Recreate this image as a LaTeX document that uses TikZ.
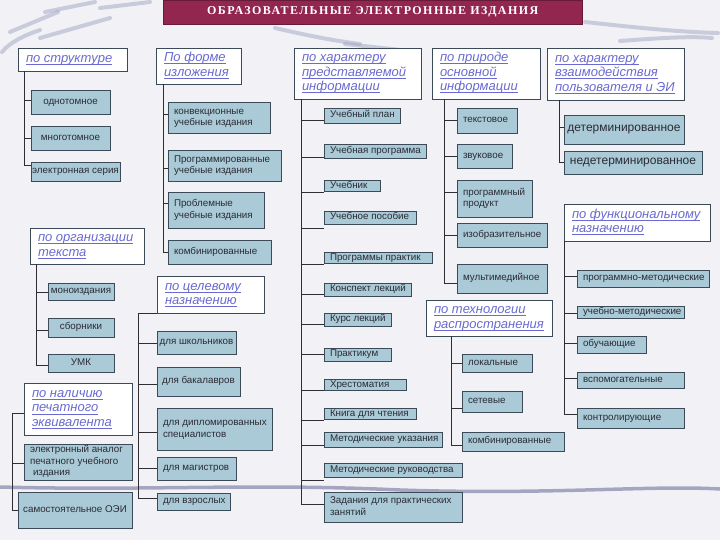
\documentclass[tikz,border=0pt]{standalone}
\usepackage{fontspec}
\setmainfont{Liberation Sans}
\newfontfamily\titlefont[LetterSpace=12]{Liberation Serif}
\definecolor{bg}{HTML}{F2F2F6}
\definecolor{boxfill}{HTML}{A9CAD6}
\definecolor{boxdraw}{HTML}{3C4A58}
\definecolor{hdtext}{HTML}{6A6AD2}
\definecolor{titlefill}{HTML}{93264F}
\definecolor{streakc}{HTML}{A0A6C2}
\definecolor{bandc}{HTML}{8A8CB0}
\definecolor{conncol}{HTML}{2E2E34}
\definecolor{boxtext}{HTML}{2B2B35}
\newcommand\ul[1]{\setbox0=\hbox{#1}\rlap{\copy0}\rule[-2.2pt]{\wd0}{0.6pt}}
\newcommand\bx[7][l]{\pgfmathsetmacro\bxw{#5-#3}\pgfmathsetmacro\bxh{#6-#4}\pgfmathsetmacro\bxt{#5-#3-12}%
  \node[box,minimum width=\bxw pt,minimum height=\bxh pt] (#2) at (#3,#4)
    {\makebox[\bxt pt][#1]{\begin{tabular}{@{}#1@{}}#7\end{tabular}}};}
\newcommand\hd[6]{\pgfmathsetmacro\bxw{#4-#2}\pgfmathsetmacro\bxh{#5-#3}\pgfmathsetmacro\bxt{#4-#2-16}%
  \node[hdr,minimum width=\bxw pt,minimum height=\bxh pt] (#1) at (#2,#3)
    {\makebox[\bxt pt][l]{\begin{tabular}{@{}l@{}}#6\end{tabular}}};}
\newcommand\tk[3]{\draw[conn] (#1 |- 0,#3) -- (#2.west |- 0,#3);}
\newcommand\tl[3]{\draw[conn] (#1) |- (#2.west |- 0,#3);}
\tikzset{
  box/.style={draw=boxdraw, fill=boxfill, line width=0.9pt, inner xsep=6pt, inner ysep=0pt,
    outer sep=0pt, anchor=north west, text=boxtext, font=\fontsize{9.8}{11.5}\selectfont},
  hdr/.style={draw=boxdraw, fill=white, line width=0.9pt, inner xsep=8pt, inner ysep=0pt,
    outer sep=0pt, anchor=north west, text=hdtext, font=\fontsize{13}{14.5}\selectfont\itshape},
  conn/.style={draw=conncol, line width=0.9pt},
  streak/.style={draw=streakc, line width=4pt, line cap=round, opacity=0.5},
  band/.style={draw=bandc, line width=3.5pt, opacity=0.75}
}
\begin{document}
\begin{tikzpicture}[x=1pt,y=-1pt]
\useasboundingbox (0,0) rectangle (720,540);
\fill[bg] (0,0) rectangle (720,540);
% decorative streaks
\draw[streak] (2,52) .. controls (10,42) and (25,35) .. (40,30);
\draw[streak] (10,32) -- (58,12);
\draw[streak] (45,12) -- (95,2);
\draw[streak] (40,38) -- (110,18);
\draw[streak] (100,8) -- (150,2);
\draw[streak] (275,28) .. controls (310,36) and (330,40) .. (360,44);
\draw[streak] (345,44) -- (420,52);
\draw[streak] (585,22) .. controls (640,28) and (680,32) .. (718,33);
\draw[streak] (620,41) .. controls (660,38) and (690,36) .. (712,38);
\draw[band] (0,487) .. controls (150,491) and (250,483) .. (400,490) .. controls (550,495) and (650,485) .. (720,489);
% title
\node[fill=titlefill, draw=titlefill!70!black, minimum width=419pt, minimum height=24pt, anchor=north west,
  inner sep=0pt, text=white, font=\titlefont\bfseries\fontsize{12}{14}\selectfont] (title) at (163,0)
  {ОБРАЗОВАТЕЛЬНЫЕ ЭЛЕКТРОННЫЕ ИЗДАНИЯ};
% headers
\hd{h1}{18}{48}{127}{71}{\ul{по структуре}}
\hd{h2}{156}{48}{241}{84}{\ul{По форме}\\\ul{изложения}}
\hd{h3}{294}{48}{421}{99}{\ul{по характеру}\\\ul{представляемой}\\\ul{информации}}
\hd{h4}{432}{48}{540}{99}{\ul{по природе}\\\ul{основной}\\\ul{информации}}
\hd{h5}{547}{48}{684}{100}{\ul{по характеру}\\\ul{взаимодействия}\\\ul{пользователя и ЭИ}}
\hd{h6}{30}{228}{144}{264}{\ul{по организации}\\\ul{текста}}
\hd{h7}{157}{276}{264}{313}{\ul{по целевому}\\\ul{назначению}}
\hd{h8}{24}{383}{132}{435}{\ul{по наличию}\\\ul{печатного}\\\ul{эквивалента}}
\hd{h9}{426}{300}{552}{336}{\ul{по технологии}\\\ul{распространения}}
\hd{h10}{564}{204}{710}{241}{\ul{по функциональному}\\\ul{назначению}}
% structure
\bx[c]{s1}{31}{90}{110}{114}{однотомное}
\bx[c]{s2}{31}{126}{110}{150}{многотомное}
\bx[c]{s3}{31}{162}{120}{181}{электронная серия}
% form
\bx{f1}{168}{102}{270}{133}{конвекционные\\учебные издания}
\bx{f2}{168}{150}{281}{181}{Программированные\\учебные издания}
\bx{f3}{168}{192}{264}{228}{Проблемные\\учебные издания}
\bx{f4}{168}{240}{271}{264}{комбинированные}
% text organisation
\bx[c]{o1}{48}{283}{114}{300}{моноиздания}
\bx[c]{o2}{48}{318}{114}{337}{сборники}
\bx[c]{o3}{48}{354}{114}{372}{УМК}
% purpose
\bx[c]{p1}{157}{331}{236}{354}{для школьников}
\bx[c]{p2}{157}{367}{240}{396}{для бакалавров}
\bx{p3}{157}{408}{272}{450}{для дипломированных\\специалистов}
\bx{p4}{157}{457}{236}{480}{для магистров}
\bx{p5}{157}{493}{230}{510}{для взрослых}
% printed equivalent
\bx{e1}{24}{444}{132}{480}{электронный аналог\\печатного учебного\\\hspace{3pt}издания}
\bx[c]{e2}{18}{492}{132}{528}{самостоятельное ОЭИ}
% information character
\bx{m1}{324}{108}{400}{123}{Учебный план}
\bx{m2}{324}{144}{426}{158}{Учебная программа}
\bx{m3}{324}{180}{380}{191}{Учебник}
\bx{m4}{324}{211}{416}{224}{Учебное пособие}
\bx{m5}{324}{252}{432}{263}{Программы практик}
\bx{m6}{324}{283}{411}{296}{Конспект лекций}
\bx{m7}{324}{313}{391}{326}{Курс лекций}
\bx{m8}{324}{348}{391}{361}{Практикум}
\bx{m9}{324}{379}{406}{389}{Хрестоматия}
\bx{m10}{324}{408}{416}{418}{Книга для чтения}
\bx{m11}{324}{432}{442}{447}{Методические указания}
\bx{m12}{324}{463}{462}{477}{Методические руководства}
\bx{m13}{324}{492}{462}{522}{Задания для практических\\занятий}
% nature
\bx{n1}{457}{108}{517}{133}{текстовое}
\bx{n2}{457}{144}{512}{168}{звуковое}
\bx{n3}{457}{180}{532}{217}{программный\\продукт}
\bx{n4}{457}{223}{547}{247}{изобразительное}
\bx{n5}{457}{264}{547}{293}{мультимедийное}
% interaction
\bx[c]{i1}{564}{115}{684}{144}{{\fontsize{12}{14}\selectfont детерминированное}}
\bx[c]{i2}{564}{151}{702}{174}{{\fontsize{12}{14}\selectfont недетерминированное}}
% technology
\bx{t1}{462}{354}{532}{372}{локальные}
\bx{t2}{462}{391}{522}{412}{сетевые}
\bx{t3}{462}{432}{564}{451}{комбинированные}
% function
\bx{u1}{577}{270}{709}{287}{программно-методические}
\bx{u2}{577}{306}{684}{318}{учебно-методические}
\bx{u3}{577}{336}{646}{353}{обучающие}
\bx{u4}{577}{372}{684}{388}{вспомогательные}
\bx{u5}{577}{408}{684}{428}{контролирующие}
% trunks
\coordinate (T1) at (24,71);
\tk{T1}{s1}{100} \tk{T1}{s2}{138} \tl{T1}{s3}{165}
\coordinate (T2) at (163,84);
\tk{T2}{f1}{114} \tk{T2}{f2}{168} \tk{T2}{f3}{203} \tl{T2}{f4}{252}
\coordinate (T3) at (301,99);
\tk{T3}{m1}{120} \tk{T3}{m2}{157} \tk{T3}{m3}{192} \tk{T3}{m4}{228}
\tk{T3}{m5}{264} \tk{T3}{m6}{294} \tk{T3}{m7}{324} \tk{T3}{m8}{354}
\tk{T3}{m9}{390} \tk{T3}{m10}{420} \tk{T3}{m11}{445} \tk{T3}{m12}{480}
\tl{T3}{m13}{504}
\coordinate (T4) at (444,99);
\tk{T4}{n1}{120} \tk{T4}{n2}{156} \tk{T4}{n3}{192} \tk{T4}{n4}{235} \tl{T4}{n5}{283}
\coordinate (T5) at (559,100);
\tk{T5}{i1}{127} \tl{T5}{i2}{162}
\coordinate (T6) at (36,264);
\tk{T6}{o1}{292} \tk{T6}{o2}{330} \tl{T6}{o3}{365}
\coordinate (T7) at (138,313);
\draw[conn] (h7.south west) -- (T7);
\tk{T7}{p1}{343} \tk{T7}{p2}{384} \tk{T7}{p3}{432} \tk{T7}{p4}{468} \tl{T7}{p5}{498}
\coordinate (T8) at (12,413);
\draw[conn] (h8.west |- T8) -- (T8);
\tk{T8}{e1}{463} \tl{T8}{e2}{510}
\coordinate (T9) at (451,336);
\tk{T9}{t1}{363} \tk{T9}{t2}{408} \tl{T9}{t3}{445}
\coordinate (T10) at (564,241);
\tk{T10}{u1}{276} \tk{T10}{u2}{313} \tk{T10}{u3}{343} \tk{T10}{u4}{378} \tl{T10}{u5}{414}
\end{tikzpicture}
\end{document}
